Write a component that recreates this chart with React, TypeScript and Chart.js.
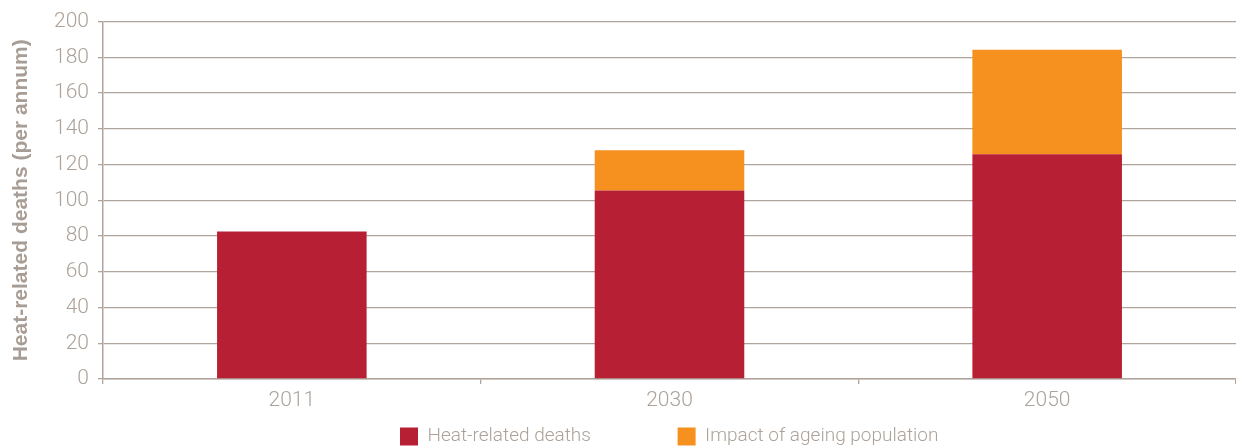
import React, { useEffect, useRef } from "react";
import { Chart, registerables } from "chart.js";

Chart.register(...registerables);

const categories = ["2011", "2030", "2050"];
const heatDeaths = [82.5, 105.5, 125.8];
const ageingImpact = [0, 22.5, 58.5];
const yTicks = [0, 20, 40, 60, 80, 100, 120, 140, 160, 180, 200];
const legendLabels = ["Heat-related deaths", "Impact of ageing population"];

const FONT = "Roboto, 'Liberation Sans', sans-serif";
const GREY = "#aca299";
const GRID = "#afa59c";

const legendPlacer = {
  id: "legendPlacer",
  afterLayout(chart: any) {
    const lg = chart.legend;
    if (!lg) return;
    const w = lg.right - lg.left;
    const h = lg.bottom - lg.top;
    lg.left = 392;
    lg.right = lg.left + w;
    lg.top = 419;
    lg.bottom = lg.top + h;
  },
};

export default function App() {
  const ref = useRef<HTMLCanvasElement | null>(null);
  useEffect(() => {
    document.body.style.margin = "0";
    const chart = new Chart(ref.current!, {
      type: "bar",
      data: {
        labels: categories,
        datasets: [
          {
            label: legendLabels[0],
            data: heatDeaths,
            backgroundColor: "#b72034",
            categoryPercentage: 0.8,
            barPercentage: 0.495,
          },
          {
            label: legendLabels[1],
            data: ageingImpact,
            backgroundColor: "#f6911f",
            categoryPercentage: 0.8,
            barPercentage: 0.495,
          },
        ],
      },
      options: {
        animation: false,
        responsive: false,
        layout: { padding: { top: 21, right: -3, left: 0, bottom: 0 } },
        plugins: {
          tooltip: { enabled: false },
          legend: {
            position: "bottom",
            align: "start",
            labels: {
              boxWidth: 18,
              boxHeight: 18,
              padding: 8,
              color: GREY,
              font: { family: FONT, size: 19, weight: "300" },
              generateLabels: (c: any) =>
                c.data.datasets.map((d: any, i: number) => ({
                  text: i === 0 ? d.label + "                 " : d.label,
                  fillStyle: d.backgroundColor,
                  strokeStyle: d.backgroundColor,
                  lineWidth: 0,
                  datasetIndex: i,
                  fontColor: GREY,
                })),
            },
          },
        },
        scales: {
          x: {
            stacked: true,
            grid: {
              drawOnChartArea: false,
              drawTicks: true,
              tickLength: 5,
              color: GRID,
              lineWidth: 1.3,
              offset: true,
            },
            border: { color: GRID, width: 1.5 },
            ticks: { color: GREY, font: { family: FONT, size: 21, weight: "300" }, padding: 4 },
            afterFit: (s: any) => {
              s.height = 31;
            },
          },
          y: {
            stacked: true,
            min: 0,
            max: 200,
            afterBuildTicks: (s: any) => {
              s.ticks = yTicks.map((v) => ({ value: v }));
            },
            grid: { color: GRID, lineWidth: 1.3, tickLength: 5 },
            border: { color: GRID, width: 1.5 },
            ticks: { color: GREY, font: { family: FONT, size: 21, weight: "300" }, padding: 9 },
            title: {
              display: true,
              text: "Heat-related deaths (per annum)",
              color: "#a89d94",
              font: { family: "'Liberation Sans', Arial, sans-serif", size: 21, weight: "bold" },
              padding: { top: 9, bottom: 4 },
            },
            afterFit: (s: any) => {
              s.width = 103;
            },
          },
        },
      },
      plugins: [legendPlacer],
    });
    return () => chart.destroy();
  }, []);
  return <canvas ref={ref} width={1236} height={447} style={{ display: "block" }} />;
}
